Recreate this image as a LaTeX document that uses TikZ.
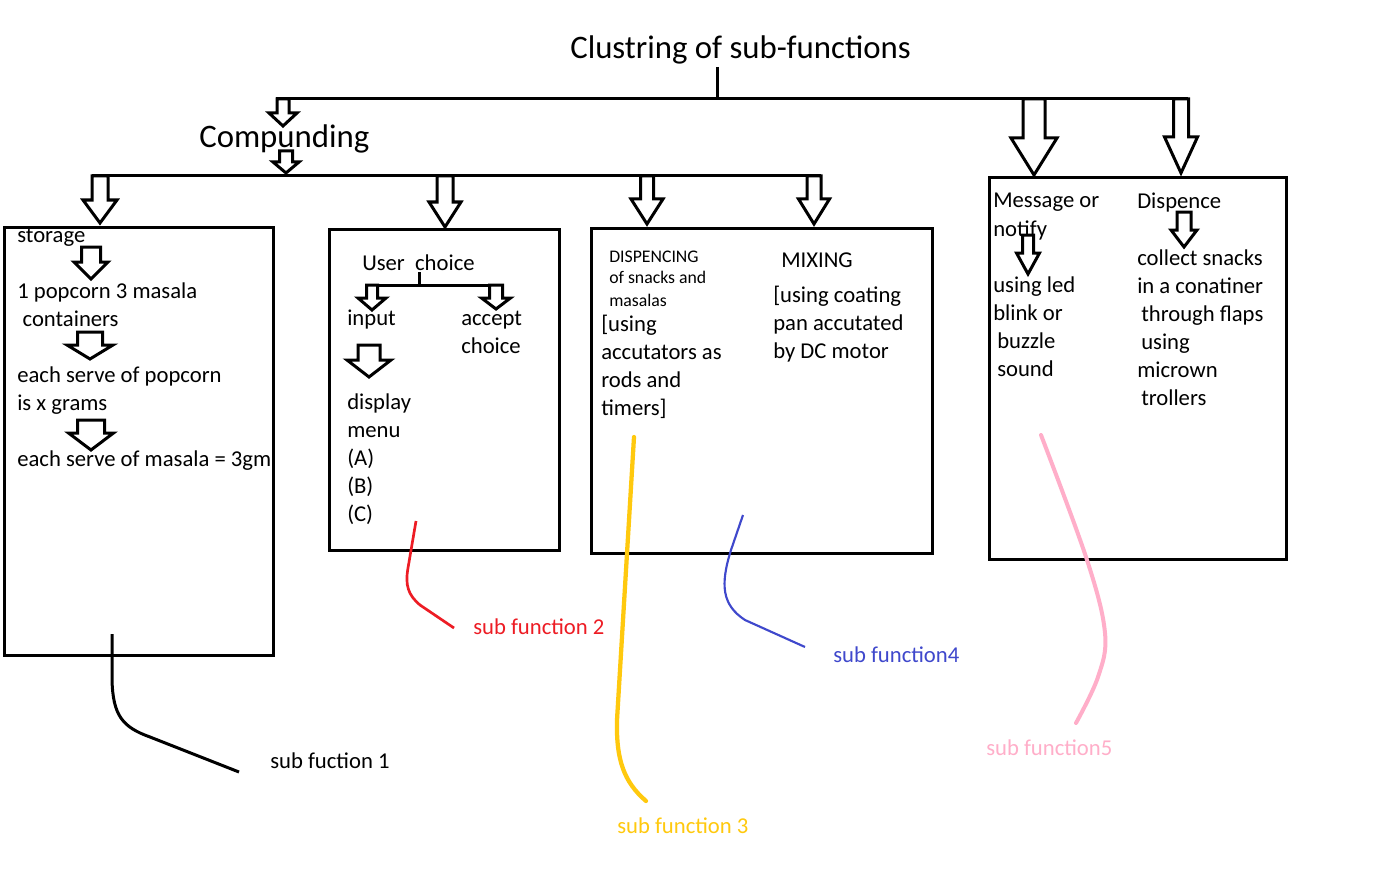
\documentclass[tikz,border=0pt]{standalone}
\usepackage{fontspec}
\setmainfont{Carlito}
\definecolor{sfred}{RGB}{237,28,36}
\definecolor{sfyellow}{RGB}{255,201,14}
\definecolor{sfblue}{RGB}{63,72,204}
\definecolor{sfpink}{RGB}{255,174,201}
\tikzset{
  ln/.style={line width=2.25pt},
  barr/.style={draw,line width=2.25pt,fill=white,line join=miter},
  boxline/.style={draw,line width=2.25pt},
  body/.style={font=\fontsize{17}{21}\selectfont,inner sep=0pt,anchor=base west},
  small/.style={font=\fontsize{13.3}{16.5}\selectfont,inner sep=0pt,anchor=base west},
  big/.style={font=\fontsize{24.6}{28}\selectfont,inner sep=0pt,anchor=base west},
}
% name, cx, top, shaft half, head half, head start, tip
\newcommand\blockarrow[7]{%
  \draw[barr] (#2-#4,#3) -- (#2-#4,#6) -- (#2-#5,#6) -- (#2,#7) -- (#2+#5,#6) -- (#2+#4,#6) -- (#2+#4,#3) -- cycle;
  \coordinate (#1-tip) at (#2,#7);
}
\newcommand\blk[1]{\begin{tabular}[t]{@{}l@{}}#1\end{tabular}}
\begin{document}
\begin{tikzpicture}[x=0.75pt,y=-0.75pt]
\useasboundingbox (0,0) rectangle (1381,895);
\fill[white] (0,0) rectangle (1381,895);

% title
\node[big] (title) at (570,59) {Clustring of sub-functions};
\coordinate (tl) at (717,67);
\coordinate (tj) at (717,99);
\draw[ln] (tl) -- (tj);
\coordinate (L1a) at (276,99);
\coordinate (L1b) at (1188,99);
\draw[ln] (L1a) -- (L1b);

\blockarrow{a1}{283}{99}{6}{14}{113}{126}
\blockarrow{a7}{1034}{99}{11}{23}{138}{175}
\blockarrow{a8}{1181}{99}{7.5}{16.5}{137}{173}

\node[big] (comp) at (199,148) {Compunding};
\coordinate (L2a) at (92,176);
\coordinate (L2b) at (821,176);
\draw[ln] (L2a) -- (L2b);
\blockarrow{a2}{286}{151}{6.5}{13}{162}{173}
\blockarrow{a3}{100}{176}{8}{17}{200}{223}
\blockarrow{a4}{445}{176}{8}{16}{202}{227}
\blockarrow{a5}{647}{176}{6.5}{16}{199}{224}
\blockarrow{a6}{814}{176}{7}{15.5}{199}{224}

% boxes
\draw[boxline] (4,227) rectangle (273,655);
\draw[boxline] (329,229) rectangle (559,550);
\draw[boxline] (591,228) rectangle (932,553);
\draw[boxline] (989,178) rectangle (1286,559);

% storage box
\node[body] (st1) at (17,242) {storage};
\blockarrow{b1}{91}{247}{9.5}{17}{262}{279}
\node[body] (st2) at (17,298) {\blk{1 popcorn 3 masala\\\hspace*{4pt}containers}};
\blockarrow{b2}{90}{332}{12.5}{23}{345}{359}
\node[body] (st3) at (17,382) {\blk{each serve of popcorn\\is x grams}};
\blockarrow{b3}{91}{420}{13.5}{22.5}{433}{450}
\node[body] (st4) at (17,466) {each serve of masala = 3gm};

% user choice box
\node[body] (uc) at (362,270) {User\ \ choice};
\coordinate (ucj) at (419,272);
\coordinate (ucb) at (419,285);
\draw[ln] (ucj) -- (ucb);
\coordinate (ucl) at (367,285);
\coordinate (ucr) at (503,285);
\draw[ln] (ucl) -- (ucr);
\blockarrow{c1}{372}{285}{5.5}{14}{298}{310}
\blockarrow{c2}{496}{285}{6.5}{14.5}{298}{309}
\node[body] (inp) at (347,325) {input};
\node[body] (acc) at (461,325) {\blk{accept\\choice}};
\blockarrow{c3}{369}{345}{11}{22}{360}{377}
\node[body] (disp) at (347,409) {\blk{display\\menu\\(A)\\(B)\\(C)}};

% dispensing / mixing box
\node[small] (dsp) at (609,262) {\blk{DISPENCING\\of snacks and\\masalas}};
\node[body] (dsp2) at (601,331) {\blk{[using\\accutators as\\rods and\\timers]}};
\node[body] (mix) at (781,267) {MIXING};
\node[body] (mix2) at (773,302) {\blk{[using coating\\pan accutated\\by DC motor}};

% message / dispence box
\node[body] (msg) at (993,208) {\blk{Message or\\notify}};
\blockarrow{d1}{1028}{235}{5.5}{11.5}{253}{274}
\node[body] (msg2) at (993,292) {\blk{using led\\blink or\\\hspace*{3pt}buzzle\\\hspace*{3pt}sound}};
\node[body] (dis) at (1137,209) {Dispence};
\blockarrow{d2}{1184}{212}{7}{13}{230}{247}
\node[body] (dis2) at (1137,265) {\blk{collect snacks\\in a conatiner\\\hspace*{3pt}through flaps\\\hspace*{3pt}using\\micrown\\\hspace*{3pt}trollers}};

% leader curves and labels
\coordinate (k1s) at (112,634);
\coordinate (k1e) at (239,772);
\draw[line width=2.25pt] (k1s) -- (112,680) .. controls (113,715) and (122,727) .. (150,737) -- (k1e);
\node[body] (sf1) at (270,768) {sub fuction 1};

\coordinate (k2s) at (416,521);
\coordinate (k2e) at (454,628);
\draw[sfred,line width=2pt] (k2s) -- (408,568) .. controls (405,585) and (408,595) .. (420,605) -- (k2e);
\node[body,text=sfred] (sf2) at (473,634) {sub function 2};

\coordinate (k3s) at (634,437);
\coordinate (k3e) at (646,801);
\draw[sfyellow,line width=3.2pt,line cap=round] (k3s) -- (617,720) .. controls (616,760) and (624,782) .. (k3e);
\node[body,text=sfyellow] (sf3) at (617,833) {sub function 3};

\coordinate (k4s) at (743,515);
\coordinate (k4e) at (805,647);
\draw[sfblue,line width=1.6pt] (k4s) -- (731,550) .. controls (720,585) and (722,605) .. (745,620) -- (k4e);
\node[body,text=sfblue] (sf4) at (833,662) {sub function4};

\coordinate (k5s) at (1041,435);
\coordinate (k5e) at (1076,723);
\draw[sfpink,line width=3pt,line cap=round] plot[smooth,tension=0.6] coordinates {(k5s) (1087,560) (1105,633) (1098,677) (k5e)};
\node[body,text=sfpink] (sf5) at (986,755) {sub function5};
\end{tikzpicture}
\end{document}
